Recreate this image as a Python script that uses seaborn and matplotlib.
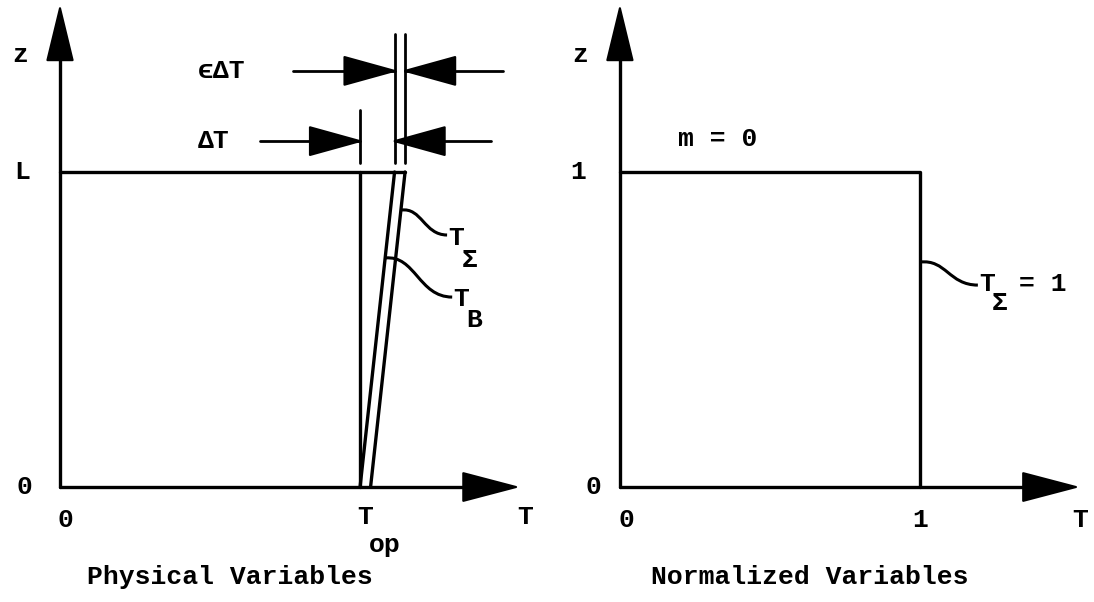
import matplotlib
matplotlib.use("Agg")
import matplotlib.pyplot as plt
from matplotlib.path import Path
from matplotlib.patches import PathPatch, Polygon
import seaborn as sns

# Physical variables (left panel): T measured in units of T_op, z in units of L
T_OP = 1.0
DELTA_T = 0.115
EPS_DELTA_T = 0.035
L_TOP = 1.0
z_ends = [0.0, L_TOP]
t_op_line = [T_OP, T_OP]
t_bulk = [T_OP, T_OP + DELTA_T]
t_sigma = [T_OP + EPS_DELTA_T, T_OP + DELTA_T + EPS_DELTA_T]

# Normalized variables (right panel)
t_norm_edge = [0.0, 1.0, 1.0]
z_norm_edge = [1.0, 1.0, 0.0]
AXIS_END = 1.52

sns.set_theme(style="white")
plt.rcParams["font.family"] = ["Liberation Mono", "DejaVu Sans Mono"]
FS = 19
INK = "black"


def draw_line(ax, x, y, lw=2.4):
    sns.lineplot(x=x, y=y, ax=ax, color=INK, lw=lw, sort=False,
                 estimator=None, legend=False)


def h_head(ax, x_tip, y, length, half):
    # filled triangle, length > 0 points right
    pts = [(x_tip, y), (x_tip - length, y + half), (x_tip - length, y - half)]
    ax.add_patch(Polygon(pts, closed=True, fc=INK, ec=INK, lw=1.5, joinstyle="round"))


def v_head(ax, x, y_tip, length, half):
    pts = [(x, y_tip), (x - half, y_tip - length), (x + half, y_tip - length)]
    ax.add_patch(Polygon(pts, closed=True, fc=INK, ec=INK, lw=1.5, joinstyle="round"))


def axes_arrows(ax):
    draw_line(ax, [0, 0], [0, AXIS_END - 0.1])
    draw_line(ax, [0, AXIS_END - 0.1], [0, 0])
    v_head(ax, 0, AXIS_END, 0.165, 0.042)
    h_head(ax, AXIS_END, 0, 0.176, 0.044)


def leader(ax, x0, y0, x1, y1):
    dx = x1 - x0
    verts = [(x0, y0), (x0 + 0.45 * dx, y0 + 0.01), (x1 - 0.5 * dx, y1), (x1, y1)]
    path = Path(verts, [Path.MOVETO, Path.CURVE4, Path.CURVE4, Path.CURVE4])
    ax.add_patch(PathPatch(path, fill=False, ec=INK, lw=2.2))


def label(ax, x, y, s, ha="center", size=FS):
    ax.text(x, y, s, ha=ha, va="center", fontsize=size, fontweight="bold", color=INK)


fig = plt.figure(figsize=(10.94, 6.02), dpi=100)
ax_l = fig.add_axes([0, 0, 0.5, 1])
ax_r = fig.add_axes([0.5, 0, 0.5, 1])
ax_l.set_xlim(-0.2, 1.623)
ax_r.set_xlim(-0.243, 1.58)
for ax in (ax_l, ax_r):
    ax.set_ylim(-0.365, 1.546)
    ax.set_axis_off()

# ---- left panel ----
axes_arrows(ax_l)
draw_line(ax_l, [0, t_sigma[1]], [L_TOP, L_TOP])
draw_line(ax_l, t_op_line, z_ends)
draw_line(ax_l, t_bulk, z_ends)
draw_line(ax_l, t_sigma, z_ends)

# dimension marks for delta T and eps delta T
gap_lo, tick_top, dbl_top = L_TOP + 0.03, L_TOP + 0.197, L_TOP + 0.438
draw_line(ax_l, [T_OP, T_OP], [gap_lo, tick_top], lw=2)
draw_line(ax_l, [t_bulk[1]] * 2, [gap_lo, dbl_top], lw=2)
draw_line(ax_l, [t_sigma[1]] * 2, [gap_lo, dbl_top], lw=2)

y_dt, y_edt = L_TOP + 0.098, L_TOP + 0.321
draw_line(ax_l, [0.667, T_OP], [y_dt, y_dt], lw=2)
h_head(ax_l, T_OP, y_dt, 0.167, 0.044)
draw_line(ax_l, [t_bulk[1], 1.437], [y_dt, y_dt], lw=2)
h_head(ax_l, t_bulk[1], y_dt, -0.167, 0.044)

draw_line(ax_l, [0.777, t_bulk[1]], [y_edt, y_edt], lw=2)
h_head(ax_l, t_bulk[1], y_edt, 0.167, 0.044)
draw_line(ax_l, [t_sigma[1], 1.477], [y_edt, y_edt], lw=2)
h_head(ax_l, t_sigma[1], y_edt, -0.167, 0.044)

label(ax_l, 0.46, y_edt, "\u03f5\u0394T", ha="left")
label(ax_l, 0.46, y_dt, "\u0394T", ha="left")

# leaders to the curves
z_s, z_b = 0.879, 0.727
leader(ax_l, t_sigma[0] + DELTA_T * z_s, z_s, 1.29, 0.80)
leader(ax_l, t_bulk[0] + DELTA_T * z_b, z_b, 1.307, 0.603)
label(ax_l, 1.295, 0.79, "T", ha="left")
label(ax_l, 1.34, 0.72, "\u03a3", ha="left")
label(ax_l, 1.31, 0.597, "T", ha="left")
label(ax_l, 1.355, 0.53, "B", ha="left")

label(ax_l, -0.133, 1.37, "z")
label(ax_l, -0.127, L_TOP, "L")
label(ax_l, -0.117, 0, "0")
label(ax_l, 0.017, -0.105, "0")
label(ax_l, 1.017, -0.095, "T")
label(ax_l, 1.083, -0.185, "op")
label(ax_l, 1.55, -0.095, "T")
label(ax_l, 0.567, -0.286, "Physical Variables")

# ---- right panel ----
axes_arrows(ax_r)
draw_line(ax_r, t_norm_edge, z_norm_edge)
leader(ax_r, 1.0, 0.714, 1.193, 0.641)
label(ax_r, 1.198, 0.645, "T", ha="left")
label(ax_r, 1.24, 0.585, "\u03a3", ha="left")
label(ax_r, 1.33, 0.645, "= 1", ha="left")
label(ax_r, 0.327, 1.105, "m = 0")
label(ax_r, -0.133, 1.37, "z")
label(ax_r, -0.14, 1.0, "1")
label(ax_r, -0.087, 0, "0")
label(ax_r, 0.023, -0.105, "0")
label(ax_r, 1.0, -0.105, "1")
label(ax_r, 1.535, -0.105, "T")
label(ax_r, 0.633, -0.286, "Normalized Variables")

fig.savefig("out.png", dpi=100)
